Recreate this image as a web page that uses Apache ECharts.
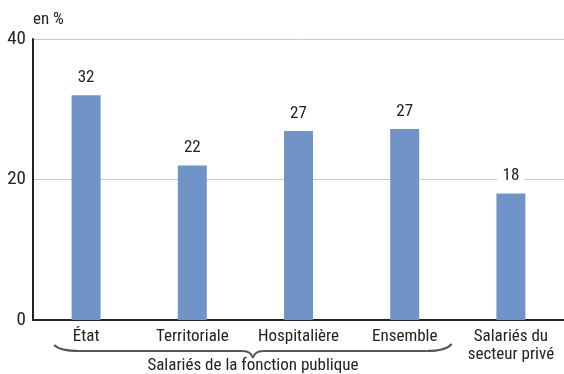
<!DOCTYPE html>
<html><head><meta charset="utf-8">
<script src="https://cdn.jsdelivr.net/npm/echarts@6/dist/echarts.min.js"></script>
<style>html,body{margin:0;padding:0;background:#fff}#c{width:564px;height:374px}</style>
</head><body><div id="c"></div>
<script>
var categories = ['État', 'Territoriale', 'Hospitalière', 'Ensemble', 'Salariés du\nsecteur privé'];
var values = [32, 22, 26.9, 27.2, 18];
var valueLabels = ['32', '22', '27', '27', '18'];
var groupLabel = 'Salariés de la fonction publique';
var unitLabel = 'en %';
var FONT = '"Roboto Condensed", "Liberation Sans", Arial, sans-serif';

var chart = echarts.init(document.getElementById('c'));
chart.setOption({
  animation: false,
  grid: {left: 33, top: 39, width: 535, height: 281, containLabel: false},
  xAxis: {
    type: 'category', data: categories,
    axisLine: {lineStyle: {color: '#222', width: 2}},
    axisTick: {show: false},
    axisLabel: {color: '#222', fontFamily: FONT, fontSize: 17, margin: 8, lineHeight: 18, interval: 0}
  },
  yAxis: {
    type: 'value', min: 0, max: 40, interval: 20,
    axisLine: {show: true, lineStyle: {color: '#222', width: 2}},
    axisTick: {show: false},
    splitLine: {lineStyle: {color: '#c8c8c8', width: 1}},
    axisLabel: {color: '#222', fontFamily: FONT, fontSize: 19, margin: 7}
  },
  series: [{
    type: 'bar', data: values, barWidth: 29,
    itemStyle: {color: '#7094c8'},
    label: {
      show: true, position: 'top', distance: 9,
      color: '#222', fontFamily: FONT, fontSize: 17,
      backgroundColor: '#fff', padding: [0, 5],
      formatter: function (p) { return valueLabels[p.dataIndex]; }
    }
  }]
});

var xa = chart.convertToPixel({xAxisIndex: 0}, categories[0]);
var xb = chart.convertToPixel({xAxisIndex: 0}, categories[3]);
var x0 = xa - 32, x1 = xb + 47, mid = (x0 + x1) / 2;
var yb = 351;
var st = {fill: null, stroke: '#555', lineWidth: 2};
chart.setOption({
  graphic: [
    {type: 'bezierCurve', shape: {x1: x0, y1: 345, cpx1: x0 + 6, cpy1: yb, x2: x0 + 25, y2: yb}, style: st},
    {type: 'line', shape: {x1: x0 + 25, y1: yb, x2: mid - 10, y2: yb}, style: st},
    {type: 'bezierCurve', shape: {x1: mid - 10, y1: yb, cpx1: mid - 2, cpy1: yb, x2: mid, y2: 358}, style: st},
    {type: 'bezierCurve', shape: {x1: mid, y1: 358, cpx1: mid + 2, cpy1: yb, x2: mid + 10, y2: yb}, style: st},
    {type: 'line', shape: {x1: mid + 10, y1: yb, x2: x1 - 25, y2: yb}, style: st},
    {type: 'bezierCurve', shape: {x1: x1 - 25, y1: yb, cpx1: x1 - 6, cpy1: yb, x2: x1, y2: 344}, style: st},
    {type: 'text', x: mid, y: 366, style: {text: groupLabel, fill: '#222', font: '17px ' + FONT, textAlign: 'center', textVerticalAlign: 'middle'}},
    {type: 'text', x: 33, y: 20, style: {text: unitLabel, fill: '#222', font: '17px ' + FONT, textAlign: 'left', textVerticalAlign: 'middle'}}
  ]
});
</script></body></html>
